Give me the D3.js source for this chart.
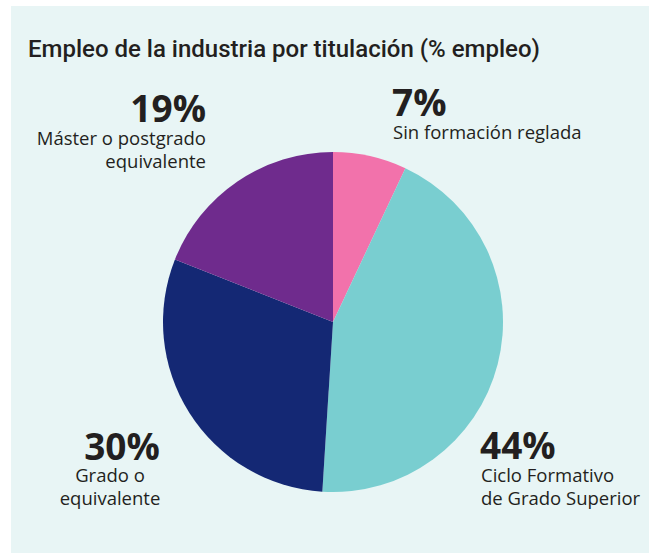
<!DOCTYPE html>
<html>
<head>
<meta charset="utf-8">
<script src="https://cdn.jsdelivr.net/npm/d3@7"></script>
<style>
  html, body { margin: 0; padding: 0; background: #ffffff; }
  svg { display: block; }
</style>
</head>
<body>
<svg id="chart" width="649" height="554"></svg>
<script>
// data
const categories = ["Sin formación reglada", "Ciclo Formativo de Grado Superior", "Grado o equivalente", "Máster o postgrado equivalente"];
const values = [7, 44, 30, 19];
const colors = ["#f272ab", "#79ced0", "#142874", "#6f2b8d"];

// label text split in lines, same order as categories
const labelLines = [
    ["Sin formación reglada"],
    ["Ciclo Formativo", "de Grado Superior"],
    ["Grado o", "equivalente"],
    ["Máster o postgrado", "equivalente"]
];

const width = 649, height = 554;
const cx = 333, cy = 322, radius = 170;
const textColor = "#231f20";
const font = "'Open Sans', sans-serif";

const svg = d3.select("#chart");

// panel background
svg.append("rect")
    .attr("x", 11).attr("y", 6)
    .attr("width", width - 11).attr("height", height - 7)
    .attr("fill", "#e8f5f5");

svg.append("text")
    .attr("x", 28).attr("y", 57)
    .style("font-family", "Roboto, sans-serif")
    .style("font-weight", 500)
    .style("font-size", "24px")
    .attr("fill", textColor)
    .text("Empleo de la industria por titulación (% empleo)");

const pie = d3.pie().sort(null).value(d => d)(values);
const arc = d3.arc().innerRadius(0).outerRadius(radius);

svg.append("g")
    .attr("transform", `translate(${cx},${cy})`)
    .selectAll("path")
    .data(pie)
    .join("path")
    .attr("d", arc)
    .attr("fill", (d, i) => colors[i]);

// where each label block goes (x of percent, baseline, anchor, x of description)
const labelLayout = [
    { px: 392, py: 116, anchor: "start", tx: 393, ty: 139 },
    { px: 480, py: 459, anchor: "start", tx: 481, ty: 482 },
    { px: 122, py: 460, anchor: "middle", tx: 110, ty: 482 },
    { px: 206, py: 122, anchor: "end", tx: 206, ty: 145 }
];

const labels = svg.append("g").selectAll("g")
    .data(pie)
    .join("g");

labels.append("text")
    .attr("x", (d, i) => labelLayout[i].px)
    .attr("y", (d, i) => labelLayout[i].py)
    .attr("text-anchor", (d, i) => labelLayout[i].anchor)
    .style("font-family", font)
    .style("font-weight", 700)
    .style("font-size", "37px")
    .attr("fill", textColor)
    .text(d => d.data + "%");

labels.append("text")
    .attr("text-anchor", (d, i) => labelLayout[i].anchor)
    .style("font-family", font)
    .style("font-size", "18.5px")
    .attr("fill", textColor)
    .each(function (d, i) {
        d3.select(this).selectAll("tspan")
            .data(labelLines[i])
            .join("tspan")
            .attr("x", labelLayout[i].tx)
            .attr("y", (t, j) => labelLayout[i].ty + j * 23)
            .text(t => t);
    });
</script>
</body>
</html>
